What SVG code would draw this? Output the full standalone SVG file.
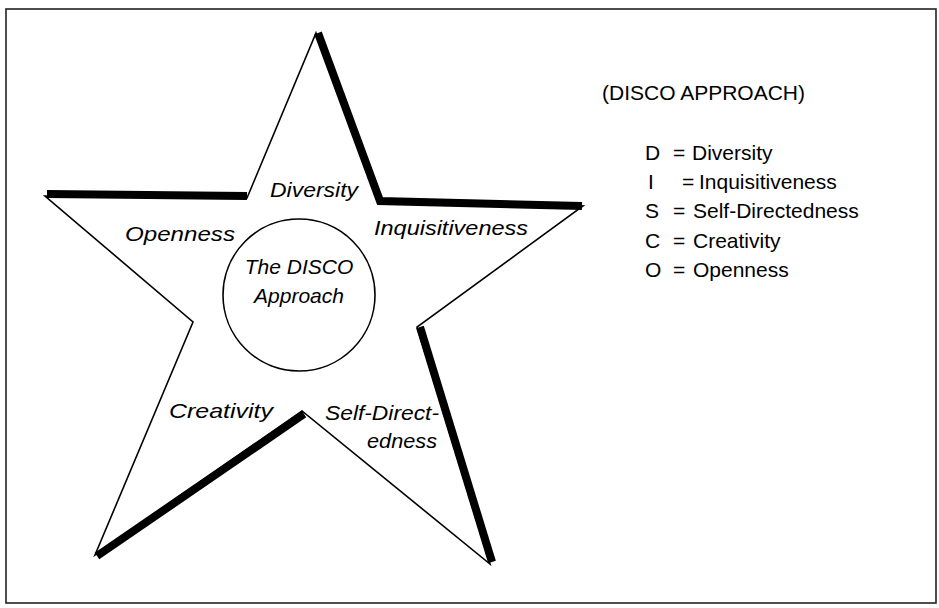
<svg xmlns="http://www.w3.org/2000/svg" width="939" height="608" viewBox="0 0 939 608">
  <style>
    .frame { fill: none; stroke: #222; stroke-width: 1.6; }
    .outline { fill: #fff; stroke: #000; stroke-width: 1.6; stroke-linejoin: miter; }
    .shadow { fill: none; stroke: #000; stroke-width: 8; stroke-linejoin: miter; stroke-linecap: butt; }
    .ring { fill: none; stroke: #000; stroke-width: 1.6; }
    .lbl { font-family: "Liberation Sans", "DejaVu Sans", sans-serif; font-style: italic; font-size: 21px; fill: #000; }
    .key { font-family: "Liberation Sans", "DejaVu Sans", sans-serif; font-size: 21px; fill: #000; }
  </style>

  <rect class="frame" x="6" y="9" width="930" height="594"/>

  <g id="star">
    <polygon class="outline" points="316,33 378,199 583,206 417,327 490,564 302,411 95,555 193,322 45,196 247,198"/>
  </g>

  <!-- heavy shadow edges of the star -->
  <g id="shadow-edges">
    <polyline class="shadow" points="318,33 380,201 582,206"/>
    <line class="shadow" x1="420" y1="327" x2="492" y2="562"/>
    <line class="shadow" x1="304" y1="414" x2="97" y2="556"/>
    <line class="shadow" x1="47" y1="194" x2="247" y2="196"/>
  </g>

  <g id="center">
    <circle class="ring" cx="299" cy="295" r="76"/>
    <text class="lbl" x="299" y="274" text-anchor="middle">The DISCO</text>
    <text class="lbl" x="299" y="303" text-anchor="middle">Approach</text>
  </g>

  <g id="diversity"><text class="lbl" x="270" y="197" textLength="88" lengthAdjust="spacingAndGlyphs">Diversity</text></g>
  <g id="openness"><text class="lbl" x="125" y="241" textLength="110" lengthAdjust="spacingAndGlyphs">Openness</text></g>
  <g id="inquisitiveness"><text class="lbl" x="374" y="235" textLength="154" lengthAdjust="spacingAndGlyphs">Inquisitiveness</text></g>
  <g id="creativity"><text class="lbl" x="169" y="418" textLength="104" lengthAdjust="spacingAndGlyphs">Creativity</text></g>
  <g id="self-directedness">
    <text class="lbl" x="325" y="420" textLength="114" lengthAdjust="spacingAndGlyphs">Self-Direct-</text>
    <text class="lbl" x="367" y="448" textLength="70" lengthAdjust="spacingAndGlyphs">edness</text>
  </g>

  <g id="legend">
    <text class="key" x="602" y="100" textLength="203" lengthAdjust="spacingAndGlyphs">(DISCO APPROACH)</text>
    <text class="key" x="645" y="160">D</text><text class="key" x="673" y="160">=</text><text class="key" x="692" y="160">Diversity</text>
    <text class="key" x="648" y="189">I</text><text class="key" x="682" y="189">=</text><text class="key" x="699" y="189">Inquisitiveness</text>
    <text class="key" x="645" y="218">S</text><text class="key" x="673" y="218">=</text><text class="key" x="693" y="218">Self-Directedness</text>
    <text class="key" x="645" y="248">C</text><text class="key" x="673" y="248">=</text><text class="key" x="693" y="248">Creativity</text>
    <text class="key" x="645" y="277">O</text><text class="key" x="673" y="277">=</text><text class="key" x="693" y="277">Openness</text>
  </g>
</svg>
